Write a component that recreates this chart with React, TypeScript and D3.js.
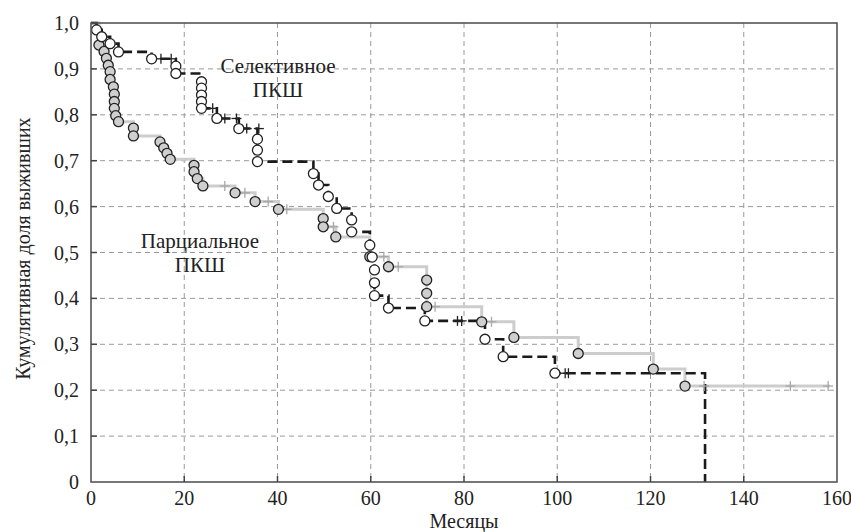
import React from 'react';
import * as d3 from 'd3';

// Селективное ПКШ: события (месяц, доля выживших)
const selTimes = [1.2, 2.3, 4.1, 5.9, 13.0, 18.2, 18.2, 23.7, 23.7, 23.7, 23.7, 23.7, 27.0, 31.7, 35.7, 35.7, 35.7, 47.7, 48.8, 50.9, 52.7, 55.9, 55.9, 59.8, 60.3, 60.8, 60.8, 60.8, 63.8, 71.6, 84.5, 88.4, 99.5];
const selSurv = [0.985, 0.970, 0.955, 0.937, 0.922, 0.906, 0.890, 0.872, 0.858, 0.843, 0.829, 0.814, 0.792, 0.770, 0.747, 0.723, 0.698, 0.672, 0.647, 0.622, 0.596, 0.571, 0.545, 0.516, 0.490, 0.462, 0.434, 0.406, 0.379, 0.351, 0.311, 0.273, 0.237];
const selCensT = [15.0, 17.2, 26.1, 28.7, 31.2, 33.4, 36.0, 53.3, 78.6, 79.5, 101.7, 102.4];
const selCensS = [0.922, 0.922, 0.814, 0.792, 0.792, 0.770, 0.770, 0.596, 0.351, 0.351, 0.237, 0.237];
const selEnd = 131.7;

// Парциальное ПКШ
const parTimes = [1.7, 2.8, 3.3, 3.7, 4.1, 4.1, 4.8, 5.0, 5.0, 5.0, 5.3, 5.9, 9.1, 9.1, 14.8, 15.6, 16.3, 17.0, 22.1, 22.1, 22.8, 24.0, 30.9, 35.2, 40.2, 49.8, 49.8, 52.5, 59.8, 63.8, 72.0, 72.0, 72.0, 83.8, 90.7, 104.5, 120.6, 127.4];
const parSurv = [0.952, 0.938, 0.923, 0.908, 0.894, 0.877, 0.861, 0.845, 0.829, 0.814, 0.798, 0.785, 0.771, 0.754, 0.741, 0.728, 0.716, 0.703, 0.690, 0.676, 0.661, 0.645, 0.630, 0.611, 0.594, 0.574, 0.556, 0.534, 0.491, 0.469, 0.440, 0.411, 0.382, 0.349, 0.315, 0.280, 0.246, 0.209];
const parCensT = [28.7, 33.0, 38.0, 42.0, 52.0, 62.8, 65.9, 73.8, 85.9, 131.5, 150.0, 158.1];
const parCensS = [0.645, 0.630, 0.611, 0.594, 0.556, 0.491, 0.469, 0.382, 0.349, 0.209, 0.209, 0.209];
const parEnd = 158.5;

const xTicks = [0, 20, 40, 60, 80, 100, 120, 140, 160];
const yTicks = [0, 0.1, 0.2, 0.3, 0.4, 0.5, 0.6, 0.7, 0.8, 0.9, 1.0];

const W = 851;
const H = 532;
const left = 91, right = 837, top = 23, bottom = 482;
const font = "'Liberation Serif', Tinos, 'Times New Roman', Times, 'DejaVu Serif', serif";

export default function App() {
  const x = d3.scaleLinear().domain([0, 160]).range([left, right]);
  const y = d3.scaleLinear().domain([0, 1]).range([bottom, top]);

  const line = d3.line<[number, number]>()
    .x(d => x(d[0]))
    .y(d => y(d[1]))
    .curve(d3.curveStepAfter);

  const selPts: [number, number][] = [[0, 1], ...selTimes.map((t, i) => [t, selSurv[i]] as [number, number]), [selEnd, 0]];
  const parPts: [number, number][] = [[0, 1], ...parTimes.map((t, i) => [t, parSurv[i]] as [number, number]), [parEnd, parSurv[parSurv.length - 1]]];

  const cross = (cx: number, cy: number, color: string, key: string) => (
    <g key={key} stroke={color} strokeWidth={1.3}>
      <line x1={cx - 5} x2={cx + 5} y1={cy} y2={cy} />
      <line x1={cx} x2={cx} y1={cy - 5} y2={cy + 5} />
    </g>
  );

  return (
    <svg width={W} height={H} style={{ position: 'absolute', left: 0, top: 0, background: '#fff', fontFamily: font }}>
      {/* сетка */}
      <g stroke="#9a9a9a" strokeWidth={1} strokeDasharray="5,4">
        {xTicks.slice(1, -1).map(t => (
          <line key={'gx' + t} x1={x(t)} x2={x(t)} y1={top} y2={bottom} />
        ))}
        {yTicks.slice(1, -1).map(t => (
          <line key={'gy' + t} x1={left} x2={right} y1={y(t)} y2={y(t)} />
        ))}
      </g>

      {/* линии */}
      <path d={line(parPts) || ''} fill="none" stroke="#cdcdcd" strokeWidth={3} />
      <path d={line(selPts) || ''} fill="none" stroke="#1a1a1a" strokeWidth={2.6} strokeDasharray="10,5" />

      {/* цензурированные */}
      {parCensT.map((t, i) => cross(x(t), y(parCensS[i]), '#a8a8a8', 'pc' + i))}
      {selCensT.map((t, i) => cross(x(t), y(selCensS[i]), '#222', 'sc' + i))}

      {/* события */}
      {parTimes.map((t, i) => (
        <circle key={'p' + i} cx={x(t)} cy={y(parSurv[i])} r={5} fill="#cfcfcf" stroke="#222" strokeWidth={1.3} />
      ))}
      {selTimes.map((t, i) => (
        <circle key={'s' + i} cx={x(t)} cy={y(selSurv[i])} r={5} fill="#fff" stroke="#222" strokeWidth={1.3} />
      ))}

      {/* рамка */}
      <rect x={left} y={top} width={right - left} height={bottom - top} fill="none" stroke="#555" strokeWidth={1.6} />

      {/* деления */}
      <g stroke="#444" strokeWidth={1.5}>
        {yTicks.slice(1, -1).map(t => (
          <line key={'ty' + t} x1={left} x2={left + 6} y1={y(t)} y2={y(t)} />
        ))}
        {xTicks.slice(1, -1).map(t => (
          <line key={'tx' + t} x1={x(t)} x2={x(t)} y1={bottom} y2={bottom - 6} />
        ))}
      </g>

      <g style={{ fontFamily: font }} fontSize={20} fill="#222">
        {yTicks.map(t => (
          <text key={'ly' + t} x={79} y={y(t)} textAnchor="end" dominantBaseline="central">
            {t === 0 ? '0' : t.toFixed(1).replace('.', ',')}
          </text>
        ))}
        {xTicks.map(t => (
          <text key={'lx' + t} x={x(t)} y={505} textAnchor="middle">{t}</text>
        ))}
        <text x={(left + right) / 2} y={528} textAnchor="middle">Месяцы</text>
        <text transform={`translate(30,${(top + bottom) / 2 - 4}) rotate(-90)`} textAnchor="middle">
          Кумулятивная доля выживших
        </text>
      </g>

      <g style={{ fontFamily: font }} fontSize={21} fill="#222" textAnchor="middle">
        <text x={278} y={73}>Селективное</text>
        <text x={278} y={97}>ПКШ</text>
        <text x={200} y={248}>Парциальное</text>
        <text x={200} y={272}>ПКШ</text>
      </g>
    </svg>
  );
}
